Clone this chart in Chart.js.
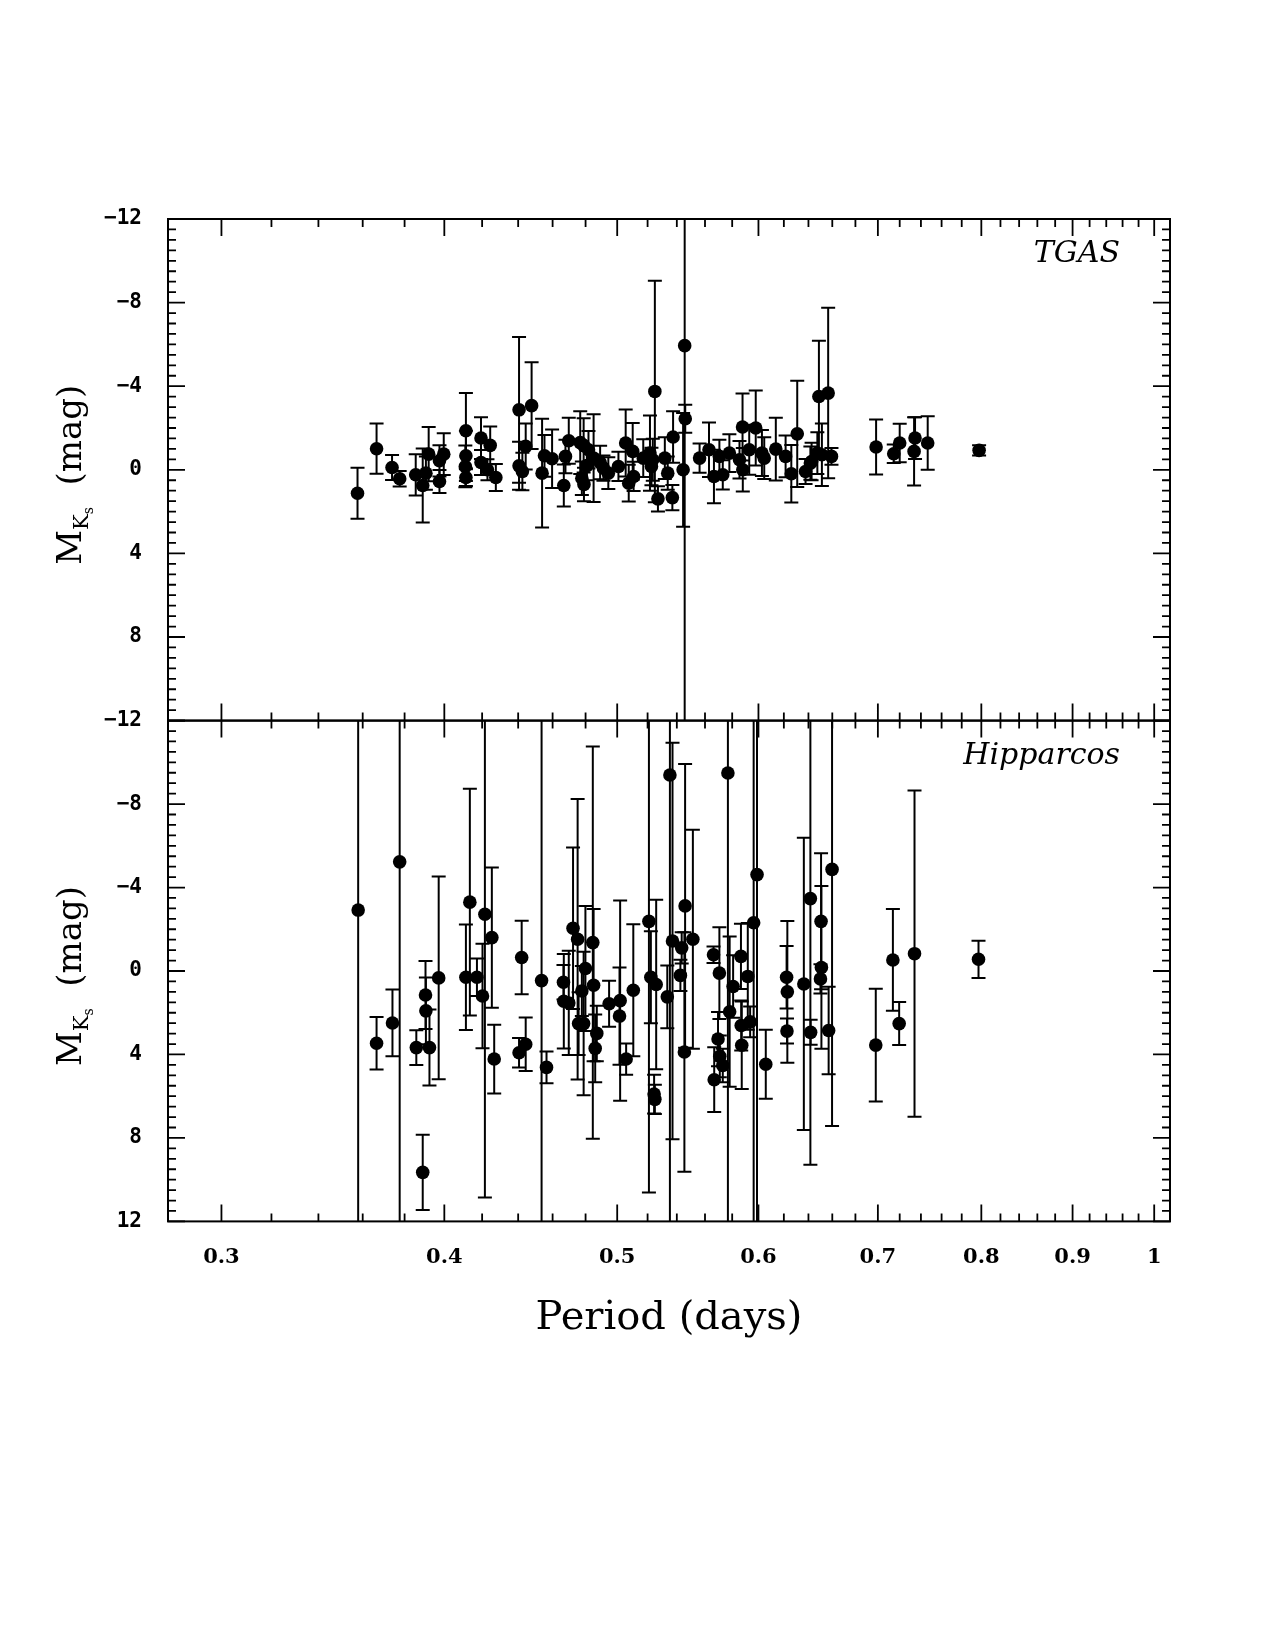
<!DOCTYPE html>
<html>
<head>
<meta charset="utf-8">
<script src="https://cdn.jsdelivr.net/npm/chart.js@4.4.1/dist/chart.umd.min.js"></script>
<style>
  html, body { margin: 0; padding: 0; background: #fff; }
  #wrap { position: relative; width: 1275px; height: 1650px; }
  #wrap canvas { position: absolute; left: 0; top: 0; }
</style>
</head>
<body>
<div id="wrap">
  <canvas id="hipChart" width="1275" height="1650"></canvas>
  <canvas id="tgasChart" width="1275" height="1650"></canvas>
</div>
<script>
// TGAS: period (days), absolute K_s magnitude, 1-sigma error
const tgasPeriod = [
  0.3576, 0.3665, 0.3739, 0.3776, 0.3855, 0.3890, 0.3906, 0.3920, 0.3975, 0.3975,
  0.3997, 0.4110, 0.4113, 0.4113, 0.4113, 0.4194, 0.4194, 0.4229, 0.4244, 0.4275,
  0.4405, 0.4405, 0.4424, 0.4443, 0.4477, 0.4538, 0.4552, 0.4597, 0.4667, 0.4677,
  0.4697, 0.4767, 0.4777, 0.4788, 0.4790, 0.4808, 0.4818, 0.4850, 0.4891, 0.4912,
  0.4943, 0.5008, 0.5055, 0.5075, 0.5101, 0.5107, 0.5171, 0.5216, 0.5226, 0.5235,
  0.5249, 0.5270, 0.5317, 0.5337, 0.5369, 0.5374, 0.5444, 0.5455, 0.5459, 0.5561,
  0.5629, 0.5665, 0.5705, 0.5730, 0.5779, 0.5855, 0.5878, 0.5880, 0.5929, 0.5979,
  0.6027, 0.6045, 0.6136, 0.6214, 0.6260, 0.6308, 0.6376, 0.6416, 0.6426, 0.6474,
  0.6487, 0.6512, 0.6565, 0.6593, 0.6984, 0.7145, 0.7200, 0.7335, 0.7344, 0.7465,
  0.7977
];
const tgasMag = [
  1.12, -1.01, -0.11, 0.43, 0.24, 0.75, 0.16, -0.75, -0.43, 0.56,
  -0.75, -0.16, -1.87, -0.67, 0.37, -1.52, -0.35, 0.00, -1.17, 0.37,
  -2.87, -0.19, 0.08, -1.12, -3.07, 0.16, -0.67, -0.53, 0.75, -0.64,
  -1.39, -1.30, 0.40, -1.17, 0.70, -0.20, -0.96, -0.56, -0.35, -0.08,
  0.16, -0.16, -1.28, 0.64, -0.88, 0.32, -0.56, -0.80, -0.16, -0.48,
  -3.75, 1.39, -0.56, 0.16, 1.33, -1.57, 0.00, -5.94, -2.44, -0.56,
  -0.96, 0.32, -0.64, 0.24, -0.80, -0.48, -2.05, 0.00, -0.96, -2.00,
  -0.80, -0.56, -0.99, -0.64, 0.19, -1.72, 0.08, -0.32, -0.40, -0.80,
  -3.51, -0.72, -3.67, -0.64, -1.09, -0.77, -1.28, -0.88, -1.52, -1.28,
  -0.93
];
const tgasErr = [
  1.22, 1.20, 0.60, 0.37, 0.99, 1.77, 0.80, 1.30, 0.75, 0.55,
  1.00, 1.00, 1.80, 1.20, 0.40, 1.00, 0.60, 0.50, 0.90, 0.65,
  3.49, 1.15, 0.90, 1.10, 2.07, 2.60, 1.00, 1.40, 1.00, 0.80,
  1.10, 1.50, 0.80, 1.30, 0.80, 0.70, 0.90, 2.10, 0.80, 0.60,
  0.76, 0.70, 1.60, 0.88, 1.36, 0.70, 0.90, 1.80, 0.90, 1.00,
  5.30, 0.60, 1.00, 0.80, 0.60, 1.23, 2.72, 18.5, 0.67, 0.70,
  1.30, 1.28, 0.80, 0.70, 0.90, 0.90, 1.60, 1.04, 1.20, 1.80,
  1.10, 1.00, 1.50, 1.00, 1.38, 2.54, 0.60, 0.80, 0.90, 1.00,
  2.67, 1.50, 4.08, 0.40, 1.32, 0.44, 0.92, 1.63, 1.00, 1.28,
  0.25
];

// Hipparcos: period (days), absolute K_s magnitude, 1-sigma error
const hipPeriod = [
  0.3579, 0.3665, 0.3741, 0.3776, 0.3858, 0.3890, 0.3904, 0.3906, 0.3924, 0.3971,
  0.4113, 0.4134, 0.4172, 0.4202, 0.4215, 0.4253, 0.4266, 0.4405, 0.4420, 0.4443,
  0.4535, 0.4564, 0.4665, 0.4667, 0.4697, 0.4723, 0.4751, 0.4757, 0.4777, 0.4788,
  0.4799, 0.4845, 0.4850, 0.4860, 0.4870, 0.4948, 0.5015, 0.5019, 0.5058, 0.5105,
  0.5209, 0.5222, 0.5244, 0.5249, 0.5258, 0.5334, 0.5352, 0.5370, 0.5425, 0.5434,
  0.5453, 0.5458, 0.5513, 0.5662, 0.5667, 0.5695, 0.5705, 0.5708, 0.5730, 0.5768,
  0.5781, 0.5807, 0.5866, 0.5868, 0.5872, 0.5918, 0.5936, 0.5963, 0.5989, 0.6057,
  0.6222, 0.6228, 0.6225, 0.6362, 0.6416, 0.6418, 0.6500, 0.6505, 0.6508, 0.6569,
  0.6598, 0.6981, 0.7137, 0.7195, 0.7339, 0.7971
];
const hipMag = [
  -2.92, 3.46, 2.49, -5.23, 3.67, 9.65, 1.15, 1.91, 3.67, 0.33,
  0.30, -3.30, 0.30, 1.20, -2.72, -1.60, 4.22, 3.92, -0.65, 3.51,
  0.46, 4.62, 0.54, 1.45, 1.53, -2.05, -1.52, 2.52, 0.96, 2.52,
  -0.12, -1.36, 0.68, 3.71, 2.99, 1.57, 2.16, 1.42, 4.22, 0.92,
  -2.38, 0.30, 5.90, 6.15, 0.65, 1.24, -9.39, -1.44, 0.21, -1.11,
  3.88, -3.12, -1.52, -0.78, 5.21, 3.26, 0.10, 4.09, 4.53, -9.49,
  1.95, 0.74, -0.70, 2.61, 3.56, 0.26, 2.44, -2.31, -4.62, 4.47,
  0.30, 1.00, 2.88, 0.62, -3.47, 2.94, 0.38, -2.38, -0.17, 2.85,
  -4.87, 3.55, -0.53, 2.52, -0.83, -0.56
];
const hipErr = [
  30, 1.26, 1.60, 30, 0.83, 1.80, 1.63, 1.60, 1.82, 4.86,
  2.53, 5.43, 0.90, 2.50, 13.57, 3.36, 1.65, 0.71, 1.76, 1.28,
  30, 0.76, 0.83, 2.26, 2.50, 3.87, 6.72, 1.50, 1.20, 3.44,
  3.00, 9.40, 3.65, 1.62, 1.33, 1.10, 2.33, 4.80, 0.75, 3.16,
  13.0, 2.20, 0.93, 0.70, 4.06, 1.50, 30, 9.50, 0.75, 0.75,
  5.74, 6.80, 5.25, 0.40, 1.55, 1.30, 2.20, 1.00, 0.80, 30,
  3.60, 1.50, 1.56, 1.20, 2.10, 2.56, 0.74, 30, 30, 1.65,
  1.50, 3.40, 0.60, 7.00, 12.76, 0.60, 0.70, 3.26, 3.90, 2.10,
  12.3, 2.70, 2.44, 1.03, 7.82, 0.89
];

const periodTicks = [0.3, 0.4, 0.5, 0.6, 0.7, 0.8, 0.9, 1.0];
const magTicks = [-12, -8, -4, 0, 4, 8, 12];

const periodMin = 0.2823, periodMax = 1.0206;
const magMin = -12, magMax = 12;

// vertical error bars with end caps, clipped to the panel
const errorBars = {
  id: 'errorBars',
  beforeDatasetsDraw(chart) {
    const { ctx, chartArea: a, scales: { x, y } } = chart;
    const ds = chart.data.datasets[0];
    ctx.save();
    ctx.beginPath();
    ctx.rect(a.left, a.top, a.width, a.height);
    ctx.clip();
    ctx.strokeStyle = '#000';
    ctx.lineWidth = 2;
    ds.data.forEach((pt, i) => {
      const e = ds.errors[i];
      const px = x.getPixelForValue(pt.x);
      const y1 = y.getPixelForValue(pt.y - e);
      const y2 = y.getPixelForValue(pt.y + e);
      ctx.beginPath();
      ctx.moveTo(px, y1); ctx.lineTo(px, y2);
      ctx.moveTo(px - 7, y1); ctx.lineTo(px + 7, y1);
      ctx.moveTo(px - 7, y2); ctx.lineTo(px + 7, y2);
      ctx.stroke();
    });
    ctx.restore();
  }
};

// box frame with inward major/minor ticks on all four sides
const frameTicks = {
  id: 'frameTicks',
  afterDatasetsDraw(chart) {
    const { ctx, chartArea: a, scales: { x, y } } = chart;
    ctx.save();
    ctx.strokeStyle = '#000';
    ctx.lineWidth = 2;
    ctx.strokeRect(a.left, a.top, a.width, a.height);
    ctx.lineWidth = 1.8;
    ctx.beginPath();
    for (let k = 30; k <= 100; k += 2) {
      const px = x.getPixelForValue(k / 100);
      const len = k % 10 === 0 ? 17 : 8;
      ctx.moveTo(px, a.bottom); ctx.lineTo(px, a.bottom - len);
      ctx.moveTo(px, a.top); ctx.lineTo(px, a.top + len);
    }
    for (let k = -24; k <= 24; k++) {
      const py = y.getPixelForValue(k / 2);
      const len = k % 8 === 0 ? 17 : 8;
      ctx.moveTo(a.left, py); ctx.lineTo(a.left + len, py);
      ctx.moveTo(a.right, py); ctx.lineTo(a.right - len, py);
    }
    ctx.stroke();
    ctx.restore();
  }
};

// rotated y title with nested subscripts, plus the panel name
const panelText = {
  id: 'panelText',
  afterDraw(chart) {
    const { ctx, chartArea: a } = chart;
    const name = chart.config.options.panelName;
    ctx.save();
    ctx.fillStyle = '#000';
    ctx.font = "italic 30px 'DejaVu Serif'";
    ctx.textAlign = 'right';
    ctx.textBaseline = 'alphabetic';
    ctx.fillText(name, a.right - 50, a.top + 43);

    const parts = [
      { t: 'M', size: 34, dy: 0 },
      { t: 'K', size: 21, dy: 7 },
      { t: 's', size: 14, dy: 12 },
      { t: '  (mag)', size: 34, dy: 0 }
    ];
    ctx.translate(81, (a.top + a.bottom) / 2 + 5);
    ctx.rotate(-Math.PI / 2);
    ctx.textAlign = 'left';
    let total = 0;
    parts.forEach(p => {
      ctx.font = p.size + "px 'DejaVu Serif'";
      p.w = ctx.measureText(p.t).width;
      total += p.w;
    });
    let tx = -total / 2;
    parts.forEach(p => {
      ctx.font = p.size + "px 'DejaVu Serif'";
      ctx.fillText(p.t, tx, p.dy);
      tx += p.w;
    });
    ctx.restore();
  }
};

function magLabel(v) {
  return v < 0 ? '\u2212' + (-v) : String(v);
}

function makePanel(id, periods, mags, errs, name, top, bottom, showX) {
  return new Chart(document.getElementById(id), {
    type: 'scatter',
    data: {
      datasets: [{
        data: periods.map((p, i) => ({ x: p, y: mags[i] })),
        errors: errs,
        pointRadius: 6.8,
        pointHoverRadius: 6.8,
        pointBackgroundColor: '#000',
        pointBorderWidth: 0,
        showLine: false
      }]
    },
    options: {
      panelName: name,
      responsive: false,
      devicePixelRatio: 1,
      animation: false,
      layout: { padding: { left: 0, right: 105, top: top, bottom: bottom } },
      plugins: { legend: { display: false }, tooltip: { enabled: false } },
      scales: {
        x: {
          type: 'logarithmic',
          min: periodMin,
          max: periodMax,
          display: showX,
          grid: { display: false },
          border: { display: false },
          afterBuildTicks: s => { s.ticks = periodTicks.map(v => ({ value: v })); },
          afterFit: s => { s.height = showX ? 121 : 0; },
          ticks: {
            autoSkip: false,
            maxRotation: 0,
            padding: 16,
            color: '#000',
            font: { family: 'DejaVu Serif', size: 21, weight: 'bold' },
            callback: v => (v >= 0.999 ? '1' : v.toFixed(1))
          },
          title: {
            display: true,
            text: 'Period (days)',
            color: '#000',
            padding: 0,
            font: { family: 'DejaVu Serif', size: 40 }
          }
        },
        y: {
          type: 'linear',
          min: magMin,
          max: magMax,
          reverse: true,
          grid: { display: false },
          border: { display: false },
          afterBuildTicks: s => { s.ticks = magTicks.map(v => ({ value: v })); },
          afterFit: s => { s.width = 168; },
          ticks: {
            autoSkip: false,
            padding: 18,
            color: '#000',
            font: { family: 'DejaVu Sans Mono', size: 21, weight: 'bold' },
            callback: v => (!showX && v === 12 ? '' : magLabel(v))
          }
        }
      }
    },
    plugins: [errorBars, frameTicks, panelText]
  });
}

makePanel('tgasChart', tgasPeriod, tgasMag, tgasErr, 'TGAS', 219, 1650 - 720.6, false);
makePanel('hipChart', hipPeriod, hipMag, hipErr, 'Hipparcos', 720.6, 1650 - 1221.4 - 121, true);
</script>
</body>
</html>
